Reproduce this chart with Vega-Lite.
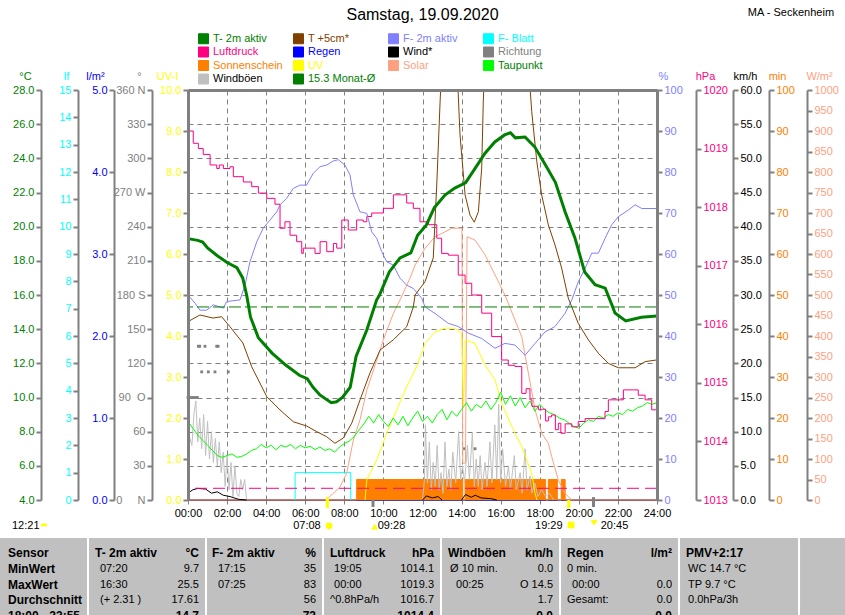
{
  "$schema": "https://vega.github.io/schema/vega-lite/v6.json",
  "width": 469,
  "height": 410,
  "autosize": {"type": "none"},
  "padding": {"left": 188, "top": 90, "right": 188, "bottom": 115},
  "background": "#ffffff",
  "datasets": {
    "reg": [{"h": 0, "v": 0}, {"h": 24, "v": 0}],
    "sun": [{"h": 0, "v": 0}, {"h": 8.63, "v": 5}, {"h": 14.06, "v": 0}, {"h": 14.18, "v": 5}, {"h": 18.3, "v": 0}, {"h": 18.44, "v": 5}, {"h": 18.9, "v": 0}, {"h": 19.1, "v": 5}, {"h": 19.3, "v": 0}, {"h": 24, "v": 0}],
    "fb": [{"h": 5.48, "v": 0}, {"h": 5.48, "v": 1}, {"h": 8.33, "v": 1}, {"h": 8.33, "v": 0}],
    "wb": [
      {"h": 0, "v": 7.0, "s": "a"}, {"h": 0.1, "v": 9.0, "s": "a"}, {"h": 0.2, "v": 8.0, "s": "a"}, {"h": 0.3, "v": 12.5, "s": "a"}, {"h": 0.4, "v": 14.5, "s": "a"}, {"h": 0.5, "v": 8.5, "s": "a"}, {"h": 0.6, "v": 12.0, "s": "a"}, {"h": 0.7, "v": 7.5, "s": "a"}, {"h": 0.8, "v": 12.5, "s": "a"}, {"h": 0.9, "v": 6.5, "s": "a"}, {"h": 1.0, "v": 11.5, "s": "a"}, {"h": 1.1, "v": 6.0, "s": "a"}, {"h": 1.2, "v": 10.0, "s": "a"}, {"h": 1.3, "v": 5.5, "s": "a"}, {"h": 1.4, "v": 9.0, "s": "a"}, {"h": 1.5, "v": 5.0, "s": "a"}, {"h": 1.6, "v": 8.5, "s": "a"}, {"h": 1.7, "v": 4.0, "s": "a"}, {"h": 1.8, "v": 7.0, "s": "a"}, {"h": 1.9, "v": 2.0, "s": "a"}, {"h": 2.0, "v": 6.5, "s": "a"}, {"h": 2.1, "v": 1.5, "s": "a"}, {"h": 2.2, "v": 5.5, "s": "a"}, {"h": 2.3, "v": 0.5, "s": "a"}, {"h": 2.4, "v": 5.0, "s": "a"}, {"h": 2.5, "v": 1.0, "s": "a"}, {"h": 2.6, "v": 0.5, "s": "a"}, {"h": 2.7, "v": 3.0, "s": "a"}, {"h": 2.8, "v": 1.5, "s": "a"}, {"h": 2.9, "v": 3.0, "s": "a"}, {"h": 3.0, "v": 0, "s": "a"},
      {"h": 12.0, "v": 0, "s": "b"}, {"h": 12.1, "v": 3.0, "s": "b"}, {"h": 12.15, "v": 11.0, "s": "b"}, {"h": 12.25, "v": 2.5, "s": "b"}, {"h": 12.35, "v": 8.5, "s": "b"}, {"h": 12.45, "v": 1.5, "s": "b"}, {"h": 12.55, "v": 5.5, "s": "b"}, {"h": 12.65, "v": 2.0, "s": "b"}, {"h": 12.75, "v": 8.0, "s": "b"}, {"h": 12.85, "v": 1.5, "s": "b"}, {"h": 12.95, "v": 4.0, "s": "b"}, {"h": 13.05, "v": 1.0, "s": "b"}, {"h": 13.15, "v": 8.5, "s": "b"}, {"h": 13.25, "v": 2.0, "s": "b"}, {"h": 13.35, "v": 4.5, "s": "b"}, {"h": 13.45, "v": 1.5, "s": "b"}, {"h": 13.55, "v": 7.0, "s": "b"}, {"h": 13.7, "v": 2.5, "s": "b"}, {"h": 13.85, "v": 10.0, "s": "b"}, {"h": 13.95, "v": 3.0, "s": "b"}, {"h": 14.05, "v": 5.0, "s": "b"}, {"h": 14.15, "v": 2.5, "s": "b"}, {"h": 14.3, "v": 8.0, "s": "b"}, {"h": 14.4, "v": 3.0, "s": "b"}, {"h": 14.55, "v": 9.8, "s": "b"}, {"h": 14.65, "v": 2.0, "s": "b"}, {"h": 14.75, "v": 6.0, "s": "b"}, {"h": 14.85, "v": 2.0, "s": "b"}, {"h": 14.95, "v": 6.5, "s": "b"}, {"h": 15.05, "v": 1.5, "s": "b"}, {"h": 15.2, "v": 5.5, "s": "b"}, {"h": 15.3, "v": 2.0, "s": "b"}, {"h": 15.45, "v": 8.5, "s": "b"}, {"h": 15.55, "v": 2.5, "s": "b"}, {"h": 15.7, "v": 11.0, "s": "b"}, {"h": 15.8, "v": 3.0, "s": "b"}, {"h": 15.9, "v": 14.0, "s": "b"}, {"h": 16.0, "v": 2.5, "s": "b"}, {"h": 16.1, "v": 7.5, "s": "b"}, {"h": 16.25, "v": 2.0, "s": "b"}, {"h": 16.4, "v": 5.0, "s": "b"}, {"h": 16.5, "v": 1.5, "s": "b"}, {"h": 16.7, "v": 6.5, "s": "b"}, {"h": 16.8, "v": 1.5, "s": "b"}, {"h": 17.0, "v": 4.0, "s": "b"}, {"h": 17.1, "v": 1.0, "s": "b"}, {"h": 17.25, "v": 7.5, "s": "b"}, {"h": 17.35, "v": 1.5, "s": "b"}, {"h": 17.5, "v": 3.5, "s": "b"}, {"h": 17.6, "v": 1.0, "s": "b"}, {"h": 17.75, "v": 2.5, "s": "b"}, {"h": 17.9, "v": 0.5, "s": "b"}, {"h": 18.1, "v": 1.5, "s": "b"}, {"h": 18.3, "v": 0.5, "s": "b"}, {"h": 18.5, "v": 1.0, "s": "b"}, {"h": 18.7, "v": 0, "s": "b"}
    ],
    "wi": [
      {"h": 0, "v": 1.0, "s": "a"}, {"h": 0.25, "v": 1.5, "s": "a"}, {"h": 0.5, "v": 1.7, "s": "a"}, {"h": 0.9, "v": 1.6, "s": "a"}, {"h": 1.2, "v": 1.0, "s": "a"}, {"h": 1.5, "v": 1.2, "s": "a"}, {"h": 1.8, "v": 0.7, "s": "a"}, {"h": 2.15, "v": 0.5, "s": "a"}, {"h": 2.6, "v": 0.1, "s": "a"}, {"h": 3.0, "v": 0, "s": "a"},
      {"h": 12.0, "v": 0, "s": "b"}, {"h": 12.2, "v": 0.6, "s": "b"}, {"h": 12.5, "v": 0.3, "s": "b"}, {"h": 12.8, "v": 0.5, "s": "b"}, {"h": 13.0, "v": 0, "s": "b"},
      {"h": 14.0, "v": 0, "s": "c"}, {"h": 14.2, "v": 0.8, "s": "c"}, {"h": 14.5, "v": 0.4, "s": "c"}, {"h": 14.7, "v": 0.7, "s": "c"}, {"h": 15.0, "v": 0.3, "s": "c"}, {"h": 15.5, "v": 0.2, "s": "c"}, {"h": 15.8, "v": 0, "s": "c"}
    ],
    "ri": [{"h": 0, "v": 90}, {"h": 0.12, "v": 90}, {"h": 0.24, "v": 90}, {"h": 0.36, "v": 90}, {"h": 0.48, "v": 90}, {"h": 0.53, "v": 135}, {"h": 0.6, "v": 135}, {"h": 0.87, "v": 135}, {"h": 1.47, "v": 135}, {"h": 1.54, "v": 135}, {"h": 0.7, "v": 112.5}, {"h": 1.04, "v": 112.5}, {"h": 1.38, "v": 112.5}, {"h": 2.06, "v": 112.5}, {"h": 14.14, "v": 45}, {"h": 14.69, "v": 45}],
    "sol": [{"h": 7.0, "v": 0}, {"h": 7.18, "v": 5}, {"h": 7.78, "v": 32}, {"h": 8.12, "v": 65}, {"h": 8.46, "v": 146}, {"h": 8.8, "v": 195}, {"h": 9.15, "v": 268}, {"h": 9.66, "v": 341}, {"h": 9.99, "v": 390}, {"h": 10.51, "v": 455}, {"h": 10.85, "v": 488}, {"h": 11.36, "v": 541}, {"h": 11.62, "v": 573}, {"h": 12.13, "v": 614}, {"h": 12.64, "v": 642}, {"h": 13.15, "v": 654}, {"h": 13.5, "v": 663}, {"h": 14.02, "v": 663}, {"h": 14.06, "v": 90}, {"h": 14.2, "v": 90}, {"h": 14.28, "v": 642}, {"h": 14.69, "v": 634}, {"h": 15.2, "v": 598}, {"h": 15.71, "v": 549}, {"h": 16.22, "v": 500}, {"h": 16.73, "v": 439}, {"h": 17.08, "v": 398}, {"h": 17.42, "v": 309}, {"h": 17.76, "v": 220}, {"h": 18.1, "v": 163}, {"h": 18.44, "v": 138}, {"h": 18.61, "v": 106}, {"h": 18.95, "v": 49}, {"h": 19.29, "v": 16}, {"h": 19.64, "v": 0}],
    "uv": [{"h": 9.06, "v": 0}, {"h": 9.15, "v": 0.49}, {"h": 9.66, "v": 0.98}, {"h": 10.17, "v": 1.63}, {"h": 10.68, "v": 2.2}, {"h": 11.19, "v": 2.76}, {"h": 11.7, "v": 3.25}, {"h": 12.13, "v": 3.82}, {"h": 12.64, "v": 4.1}, {"h": 13.15, "v": 4.19}, {"h": 13.66, "v": 4.19}, {"h": 14.0, "v": 4.07}, {"h": 14.1, "v": 2.3}, {"h": 14.2, "v": 3.9}, {"h": 14.69, "v": 3.82}, {"h": 15.2, "v": 3.29}, {"h": 15.71, "v": 2.93}, {"h": 16.05, "v": 2.36}, {"h": 16.57, "v": 1.79}, {"h": 17.08, "v": 1.3}, {"h": 17.59, "v": 0.65}, {"h": 17.76, "v": 0.16}, {"h": 17.86, "v": 0}],
    "tp": [{"h": 0, "v": 8.6}, {"h": 0.25, "v": 8.2}, {"h": 0.5, "v": 7.8}, {"h": 0.75, "v": 7.5}, {"h": 1.0, "v": 7.2}, {"h": 1.25, "v": 6.9}, {"h": 1.5, "v": 6.6}, {"h": 1.75, "v": 6.5}, {"h": 2.0, "v": 6.6}, {"h": 2.25, "v": 6.7}, {"h": 2.5, "v": 6.5}, {"h": 2.75, "v": 6.55}, {"h": 3.0, "v": 6.7}, {"h": 3.25, "v": 6.9}, {"h": 3.5, "v": 7.0}, {"h": 3.75, "v": 7.25}, {"h": 4.0, "v": 7.05}, {"h": 4.25, "v": 7.2}, {"h": 4.5, "v": 6.95}, {"h": 4.75, "v": 7.2}, {"h": 5.0, "v": 7.1}, {"h": 5.25, "v": 7.25}, {"h": 5.5, "v": 7.0}, {"h": 5.75, "v": 7.2}, {"h": 6.0, "v": 7.05}, {"h": 6.25, "v": 7.15}, {"h": 6.5, "v": 6.95}, {"h": 6.75, "v": 7.1}, {"h": 7.0, "v": 6.9}, {"h": 7.25, "v": 7.0}, {"h": 7.5, "v": 6.8}, {"h": 7.75, "v": 7.1}, {"h": 8.0, "v": 7.3}, {"h": 8.25, "v": 7.45}, {"h": 8.5, "v": 7.7}, {"h": 8.75, "v": 8.1}, {"h": 9.0, "v": 8.45}, {"h": 9.25, "v": 8.9}, {"h": 9.5, "v": 8.5}, {"h": 9.75, "v": 9.0}, {"h": 10.0, "v": 8.6}, {"h": 10.25, "v": 8.3}, {"h": 10.5, "v": 8.8}, {"h": 10.75, "v": 8.4}, {"h": 11.0, "v": 8.9}, {"h": 11.25, "v": 8.35}, {"h": 11.5, "v": 8.8}, {"h": 11.75, "v": 9.2}, {"h": 12.0, "v": 8.6}, {"h": 12.25, "v": 8.9}, {"h": 12.5, "v": 8.5}, {"h": 12.75, "v": 9.0}, {"h": 13.0, "v": 9.3}, {"h": 13.25, "v": 8.7}, {"h": 13.5, "v": 9.2}, {"h": 13.75, "v": 8.9}, {"h": 14.0, "v": 9.3}, {"h": 14.25, "v": 9.7}, {"h": 14.5, "v": 9.2}, {"h": 14.75, "v": 9.6}, {"h": 15.0, "v": 9.4}, {"h": 15.25, "v": 9.8}, {"h": 15.5, "v": 9.3}, {"h": 15.75, "v": 9.7}, {"h": 16.0, "v": 10.3}, {"h": 16.25, "v": 9.6}, {"h": 16.5, "v": 10.1}, {"h": 16.75, "v": 9.5}, {"h": 17.0, "v": 10.0}, {"h": 17.25, "v": 9.4}, {"h": 17.5, "v": 9.8}, {"h": 17.75, "v": 9.2}, {"h": 18.0, "v": 9.6}, {"h": 18.25, "v": 9.3}, {"h": 18.5, "v": 9.1}, {"h": 18.75, "v": 9.0}, {"h": 19.0, "v": 8.8}, {"h": 19.25, "v": 8.7}, {"h": 19.5, "v": 8.5}, {"h": 19.75, "v": 8.3}, {"h": 20.0, "v": 8.2}, {"h": 20.25, "v": 8.5}, {"h": 20.5, "v": 8.7}, {"h": 20.75, "v": 8.6}, {"h": 21.0, "v": 8.9}, {"h": 21.25, "v": 8.8}, {"h": 21.5, "v": 9.0}, {"h": 21.75, "v": 8.9}, {"h": 22.0, "v": 9.1}, {"h": 22.25, "v": 9.0}, {"h": 22.5, "v": 9.3}, {"h": 22.75, "v": 9.2}, {"h": 23.0, "v": 9.4}, {"h": 23.25, "v": 9.5}, {"h": 23.5, "v": 9.7}, {"h": 23.75, "v": 9.6}, {"h": 24.0, "v": 9.7}],
    "lp": [{"h": 0, "v": 1019.3}, {"h": 0.27, "v": 1019.09}, {"h": 0.53, "v": 1019.0}, {"h": 0.78, "v": 1018.9}, {"h": 1.13, "v": 1018.72}, {"h": 1.47, "v": 1018.66}, {"h": 1.6, "v": 1018.72}, {"h": 1.81, "v": 1018.66}, {"h": 2.15, "v": 1018.69}, {"h": 2.32, "v": 1018.52}, {"h": 2.83, "v": 1018.43}, {"h": 3.26, "v": 1018.35}, {"h": 3.6, "v": 1018.24}, {"h": 4.03, "v": 1018.15}, {"h": 4.45, "v": 1018.05}, {"h": 4.71, "v": 1017.64}, {"h": 4.96, "v": 1017.75}, {"h": 5.22, "v": 1017.52}, {"h": 5.56, "v": 1017.41}, {"h": 5.82, "v": 1017.21}, {"h": 5.9, "v": 1017.3}, {"h": 6.24, "v": 1017.3}, {"h": 6.5, "v": 1017.21}, {"h": 6.76, "v": 1017.41}, {"h": 7.1, "v": 1017.24}, {"h": 7.44, "v": 1017.38}, {"h": 7.61, "v": 1017.3}, {"h": 7.87, "v": 1017.78}, {"h": 8.2, "v": 1017.61}, {"h": 8.63, "v": 1017.78}, {"h": 8.97, "v": 1017.75}, {"h": 9.15, "v": 1017.84}, {"h": 9.4, "v": 1017.9}, {"h": 9.83, "v": 1017.9}, {"h": 10.0, "v": 1017.98}, {"h": 10.34, "v": 1017.98}, {"h": 10.51, "v": 1018.21}, {"h": 10.94, "v": 1018.21}, {"h": 11.19, "v": 1018.07}, {"h": 11.53, "v": 1017.98}, {"h": 11.87, "v": 1017.75}, {"h": 12.3, "v": 1017.7}, {"h": 12.73, "v": 1017.47}, {"h": 12.98, "v": 1017.21}, {"h": 13.32, "v": 1017.18}, {"h": 13.83, "v": 1016.84}, {"h": 14.18, "v": 1016.7}, {"h": 14.52, "v": 1016.5}, {"h": 15.03, "v": 1016.19}, {"h": 15.54, "v": 1015.79}, {"h": 16.05, "v": 1015.39}, {"h": 16.39, "v": 1015.3}, {"h": 16.73, "v": 1015.28}, {"h": 17.08, "v": 1014.82}, {"h": 17.3, "v": 1014.9}, {"h": 17.5, "v": 1014.71}, {"h": 17.6, "v": 1014.6}, {"h": 17.93, "v": 1014.54}, {"h": 18.1, "v": 1014.55}, {"h": 18.3, "v": 1014.35}, {"h": 18.44, "v": 1014.42}, {"h": 18.6, "v": 1014.45}, {"h": 18.8, "v": 1014.2}, {"h": 18.95, "v": 1014.31}, {"h": 19.08, "v": 1014.14}, {"h": 19.3, "v": 1014.3}, {"h": 19.64, "v": 1014.25}, {"h": 19.97, "v": 1014.34}, {"h": 20.32, "v": 1014.39}, {"h": 20.83, "v": 1014.39}, {"h": 21.34, "v": 1014.51}, {"h": 21.51, "v": 1014.71}, {"h": 22.02, "v": 1014.71}, {"h": 22.28, "v": 1014.88}, {"h": 22.79, "v": 1014.88}, {"h": 23.04, "v": 1014.79}, {"h": 23.39, "v": 1014.71}, {"h": 23.73, "v": 1014.54}, {"h": 24, "v": 1014.39}],
    "fh": [{"h": 0, "v": 50}, {"h": 0.36, "v": 48}, {"h": 0.61, "v": 46.3}, {"h": 0.96, "v": 46.3}, {"h": 1.29, "v": 47.6}, {"h": 1.81, "v": 46.8}, {"h": 1.98, "v": 48.4}, {"h": 2.66, "v": 48.8}, {"h": 2.92, "v": 52.4}, {"h": 3.17, "v": 58.1}, {"h": 3.52, "v": 63}, {"h": 3.85, "v": 66.3}, {"h": 4.2, "v": 68.3}, {"h": 4.54, "v": 70.3}, {"h": 4.71, "v": 72}, {"h": 5.05, "v": 73.6}, {"h": 5.39, "v": 76}, {"h": 5.73, "v": 76.8}, {"h": 6.07, "v": 76.8}, {"h": 6.41, "v": 79.7}, {"h": 6.76, "v": 81.3}, {"h": 7.1, "v": 81.7}, {"h": 7.44, "v": 82.7}, {"h": 7.69, "v": 83}, {"h": 8.03, "v": 81.7}, {"h": 8.29, "v": 79.3}, {"h": 8.46, "v": 74.4}, {"h": 8.8, "v": 70.3}, {"h": 9.15, "v": 69.9}, {"h": 9.4, "v": 65.4}, {"h": 9.66, "v": 63.8}, {"h": 9.91, "v": 60.6}, {"h": 10.17, "v": 58.1}, {"h": 10.5, "v": 57.3}, {"h": 10.85, "v": 54.1}, {"h": 11.19, "v": 52.4}, {"h": 11.53, "v": 51.6}, {"h": 11.96, "v": 49.2}, {"h": 12.13, "v": 47.1}, {"h": 12.64, "v": 45.5}, {"h": 13.32, "v": 43.1}, {"h": 13.83, "v": 42.3}, {"h": 14.35, "v": 40.7}, {"h": 15.03, "v": 39.4}, {"h": 15.71, "v": 37}, {"h": 16.22, "v": 38.2}, {"h": 16.73, "v": 37.8}, {"h": 17.25, "v": 35.3}, {"h": 17.76, "v": 38.2}, {"h": 18.27, "v": 41}, {"h": 18.78, "v": 42.3}, {"h": 19.29, "v": 45.5}, {"h": 19.64, "v": 48.8}, {"h": 19.97, "v": 53.2}, {"h": 20.32, "v": 56.5}, {"h": 20.66, "v": 60.2}, {"h": 21.0, "v": 60.2}, {"h": 21.34, "v": 63.8}, {"h": 21.68, "v": 67.1}, {"h": 22.02, "v": 69.1}, {"h": 22.53, "v": 70.7}, {"h": 22.88, "v": 72}, {"h": 23.22, "v": 71.1}, {"h": 24, "v": 71.1}],
    "t5": [{"h": 0, "v": 14.44}, {"h": 0.61, "v": 14.83}, {"h": 1.28, "v": 14.65}, {"h": 1.72, "v": 14.73}, {"h": 2.15, "v": 14.14}, {"h": 2.81, "v": 13.19}, {"h": 3.26, "v": 11.8}, {"h": 4.03, "v": 10.05}, {"h": 4.71, "v": 9.27}, {"h": 5.39, "v": 8.58}, {"h": 6.07, "v": 8.33}, {"h": 6.59, "v": 8.0}, {"h": 7.1, "v": 7.7}, {"h": 7.52, "v": 7.32}, {"h": 7.95, "v": 7.63}, {"h": 8.38, "v": 8.5}, {"h": 8.8, "v": 9.85}, {"h": 9.31, "v": 11.43}, {"h": 9.83, "v": 12.78}, {"h": 10.5, "v": 13.37}, {"h": 11.19, "v": 14.14}, {"h": 11.53, "v": 15.3}, {"h": 11.62, "v": 16.0}, {"h": 12.13, "v": 16.78}, {"h": 12.55, "v": 18.17}, {"h": 12.73, "v": 22.44}, {"h": 12.9, "v": 27.3}, {"h": 13.0, "v": 29.8}, {"h": 13.3, "v": 33}, {"h": 13.55, "v": 33}, {"h": 13.75, "v": 29.8}, {"h": 13.92, "v": 25.37}, {"h": 14.18, "v": 21.85}, {"h": 14.43, "v": 20.68}, {"h": 14.65, "v": 20.26}, {"h": 14.86, "v": 20.88}, {"h": 15.03, "v": 23.43}, {"h": 15.11, "v": 27.3}, {"h": 15.2, "v": 29.8}, {"h": 15.6, "v": 34}, {"h": 17.0, "v": 34}, {"h": 17.4, "v": 29.8}, {"h": 17.59, "v": 26.73}, {"h": 17.85, "v": 23.8}, {"h": 18.1, "v": 21.85}, {"h": 18.44, "v": 20.1}, {"h": 18.78, "v": 18.93}, {"h": 19.12, "v": 17.58}, {"h": 19.46, "v": 15.82}, {"h": 19.97, "v": 14.34}, {"h": 20.49, "v": 13.37}, {"h": 21.0, "v": 12.59}, {"h": 21.51, "v": 12.0}, {"h": 22.02, "v": 11.74}, {"h": 22.88, "v": 11.74}, {"h": 23.39, "v": 12.1}, {"h": 24, "v": 12.2}],
    "t2": [{"h": 0, "v": 19.3}, {"h": 0.5, "v": 19.2}, {"h": 0.75, "v": 19.1}, {"h": 1.0, "v": 18.75}, {"h": 1.5, "v": 18.3}, {"h": 2.0, "v": 17.9}, {"h": 2.5, "v": 17.6}, {"h": 2.8, "v": 17.0}, {"h": 3.0, "v": 16.0}, {"h": 3.2, "v": 14.7}, {"h": 3.6, "v": 13.5}, {"h": 4.3, "v": 12.6}, {"h": 5.0, "v": 11.9}, {"h": 5.7, "v": 11.3}, {"h": 6.1, "v": 11.1}, {"h": 6.4, "v": 10.6}, {"h": 6.75, "v": 10.15}, {"h": 7.33, "v": 9.7}, {"h": 7.6, "v": 9.75}, {"h": 7.9, "v": 10.0}, {"h": 8.3, "v": 10.6}, {"h": 8.6, "v": 12.4}, {"h": 9.15, "v": 13.95}, {"h": 9.65, "v": 15.7}, {"h": 9.8, "v": 16.0}, {"h": 10.3, "v": 17.35}, {"h": 10.85, "v": 18.17}, {"h": 11.4, "v": 18.46}, {"h": 11.75, "v": 19.5}, {"h": 12.2, "v": 20.1}, {"h": 12.6, "v": 21.1}, {"h": 13.15, "v": 21.85}, {"h": 13.65, "v": 22.26}, {"h": 14.2, "v": 22.56}, {"h": 14.7, "v": 23.43}, {"h": 15.2, "v": 24.3}, {"h": 15.7, "v": 24.96}, {"h": 16.2, "v": 25.37}, {"h": 16.5, "v": 25.5}, {"h": 16.75, "v": 25.2}, {"h": 17.25, "v": 25.25}, {"h": 17.75, "v": 24.66}, {"h": 18.3, "v": 23.6}, {"h": 18.8, "v": 22.6}, {"h": 19.3, "v": 20.86}, {"h": 19.8, "v": 19.34}, {"h": 20.3, "v": 17.35}, {"h": 20.83, "v": 16.6}, {"h": 21.35, "v": 16.4}, {"h": 21.7, "v": 15.4}, {"h": 21.85, "v": 14.95}, {"h": 22.4, "v": 14.48}, {"h": 23.2, "v": 14.7}, {"h": 24, "v": 14.77}],
    "ann": [{"t": "12:21", "h": -9.007, "v": -0.627, "k": "l"}, {"t": "07:08", "h": 6.79, "v": -0.627, "k": "r"}, {"t": "09:28", "h": 9.71, "v": -0.627, "k": "l"}, {"t": "19:29", "h": 19.17, "v": -0.627, "k": "r"}, {"t": "20:45", "h": 21.12, "v": -0.627, "k": "l"}, {"t": "MA - Seckenheim", "h": 33.06, "v": 11.88, "k": "r"}],
    "hdr": [{"t": "Samstag, 19.09.2020", "h": 12, "v": 11.83}],
    "ico": [{"h": -7.37, "v": -0.6, "sh": "M-1,0.5C-1,-0.7 1,-0.7 1,0.5Z"}, {"h": 7.22, "v": -0.63, "sh": "circle"}, {"h": 9.55, "v": -0.65, "sh": "triangle-up"}, {"h": 19.6, "v": -0.61, "sh": "square"}, {"h": 20.78, "v": -0.56, "sh": "triangle-down"}],
    "tk": [{"h": 7.133, "v1": 0.07, "v2": -0.2, "c": "y"}, {"h": 9.467, "v1": 0, "v2": -0.17, "c": "g"}, {"h": 19.483, "v1": 0, "v2": -0.2, "c": "y"}, {"h": 20.75, "v1": 0.07, "v2": -0.17, "c": "g"}],
    "cols": [{"x1": -9.7, "x2": -5.169}, {"x1": -5.067, "x2": 0.87}, {"x1": 0.972, "x2": 6.858}, {"x1": 6.96, "x2": 12.897}, {"x1": 12.999, "x2": 18.987}, {"x1": 19.089, "x2": 25.077}, {"x1": 25.179, "x2": 31.218}, {"x1": 31.32, "x2": 33.7}],
    "cells": [
      {"t": "Sensor", "h": -9.212, "v": -1.293, "k": "lb"},
      {"t": "MinWert", "h": -9.212, "v": -1.671, "k": "lb"},
      {"t": "MaxWert", "h": -9.212, "v": -2.061, "k": "lb"},
      {"t": "Durchschnitt", "h": -9.212, "v": -2.451, "k": "lb"},
      {"t": "18:00 - 23:55", "h": -9.212, "v": -2.841, "k": "lb"},
      {"t": "T- 2m aktiv", "h": -4.76, "v": -1.293, "k": "lb"},
      {"t": "F- 2m aktiv", "h": 1.228, "v": -1.293, "k": "lb"},
      {"t": "Luftdruck", "h": 7.267, "v": -1.293, "k": "lb"},
      {"t": "Windböen", "h": 13.306, "v": -1.293, "k": "lb"},
      {"t": "Regen", "h": 19.396, "v": -1.293, "k": "lb"},
      {"t": "PMV+2:17", "h": 25.486, "v": -1.293, "k": "lb"},
      {"t": "°C", "h": 0.563, "v": -1.293, "k": "rb"},
      {"t": "%", "h": 6.551, "v": -1.293, "k": "rb"},
      {"t": "hPa", "h": 12.59, "v": -1.293, "k": "rb"},
      {"t": "km/h", "h": 18.68, "v": -1.293, "k": "rb"},
      {"t": "l/m²", "h": 24.77, "v": -1.293, "k": "rb"},
      {"t": "14.7", "h": 0.563, "v": -2.841, "k": "rb"},
      {"t": "73", "h": 6.551, "v": -2.841, "k": "rb"},
      {"t": "1014.4", "h": 12.59, "v": -2.841, "k": "rb"},
      {"t": "0.0", "h": 18.68, "v": -2.841, "k": "rb"},
      {"t": "0.0", "h": 24.77, "v": -2.841, "k": "rb"},
      {"t": "07:20", "h": -4.504, "v": -1.671, "k": "ln"},
      {"t": "16:30", "h": -4.504, "v": -2.061, "k": "ln"},
      {"t": "(+ 2.31 )", "h": -4.504, "v": -2.451, "k": "ln"},
      {"t": "17:15", "h": 1.535, "v": -1.671, "k": "ln"},
      {"t": "07:25", "h": 1.535, "v": -2.061, "k": "ln"},
      {"t": "19:05", "h": 7.472, "v": -1.671, "k": "ln"},
      {"t": "00:00", "h": 7.472, "v": -2.061, "k": "ln"},
      {"t": "^0.8hPa/h", "h": 7.267, "v": -2.451, "k": "ln"},
      {"t": "Ø 10 min.", "h": 13.408, "v": -1.671, "k": "ln"},
      {"t": "00:25", "h": 13.715, "v": -2.061, "k": "ln"},
      {"t": "0 min.", "h": 19.396, "v": -1.671, "k": "ln"},
      {"t": "00:00", "h": 19.652, "v": -2.061, "k": "ln"},
      {"t": "Gesamt:", "h": 19.396, "v": -2.451, "k": "ln"},
      {"t": "WC 14.7 °C", "h": 25.589, "v": -1.671, "k": "ln"},
      {"t": "TP 9.7 °C", "h": 25.589, "v": -2.061, "k": "ln"},
      {"t": "0.0hPa/3h", "h": 25.589, "v": -2.451, "k": "ln"},
      {"t": "9.7", "h": 0.563, "v": -1.671, "k": "rn"},
      {"t": "25.5", "h": 0.563, "v": -2.061, "k": "rn"},
      {"t": "17.61", "h": 0.563, "v": -2.451, "k": "rn"},
      {"t": "35", "h": 6.551, "v": -1.671, "k": "rn"},
      {"t": "83", "h": 6.551, "v": -2.061, "k": "rn"},
      {"t": "56", "h": 6.551, "v": -2.451, "k": "rn"},
      {"t": "1014.1", "h": 12.59, "v": -1.671, "k": "rn"},
      {"t": "1019.3", "h": 12.59, "v": -2.061, "k": "rn"},
      {"t": "1016.7", "h": 12.59, "v": -2.451, "k": "rn"},
      {"t": "0.0", "h": 18.68, "v": -1.671, "k": "rn"},
      {"t": "O 14.5", "h": 18.68, "v": -2.061, "k": "rn"},
      {"t": "1.7", "h": 18.68, "v": -2.451, "k": "rn"},
      {"t": "0.0", "h": 24.77, "v": -2.061, "k": "rn"},
      {"t": "0.0", "h": 24.77, "v": -2.451, "k": "rn"}
    ]
  },
  "layer": [
    {
      "data": {"name": "reg"},
      "mark": {"type": "line", "strokeWidth": 1},
      "encoding": {
        "x": {"field": "h", "type": "quantitative", "scale": {"domain": [0, 24], "nice": false}, "axis": null},
        "y": {"field": "v", "type": "quantitative", "scale": {"domain": [0, 5], "nice": false, "zero": false},
          "axis": {"orient": "left", "offset": 74, "values": [0, 1, 2, 3, 4, 5], "format": ".1f", "labelColor": "#0000FF", "title": "l/m²", "titleColor": "#0000FF", "titleAngle": 0, "titleAlign": "center", "titleBaseline": "middle", "titleX": -19, "titleY": -14}},
        "color": {
          "datum": "Regen",
          "scale": {
            "domain": ["T- 2m aktiv", "T +5cm*", "F- 2m aktiv", "F- Blatt", "Luftdruck", "Regen", "Wind*", "Richtung", "Sonnenschein", "UV", "Solar", "Taupunkt", "Windböen", "15.3 Monat-Ø"],
            "range": ["#008000", "#804000", "#8080FF", "#00FFFF", "#FF0080", "#0000FF", "#000000", "#808080", "#FF8000", "#FFFF00", "#FFA080", "#00FF00", "#C0C0C0", "#008000"]
          },
          "legend": {
            "orient": "none", "legendX": 10, "legendY": -57, "columns": 4, "direction": "horizontal", "gridAlign": "all",
            "columnPadding": 8, "rowPadding": -1.5, "padding": 0, "title": null,
            "symbolType": "square", "symbolSize": 100, "symbolStrokeWidth": 1, "symbolStrokeColor": "#000000",
            "labelFont": "Liberation Sans", "labelFontSize": 11, "labelOffset": 4,
            "encode": {
              "symbols": {"update": {
                "fill": {"signal": "datum.label === '15.3 Monat-Ø' ? '#ffffff' : scale('color', datum.value)"},
                "stroke": {"signal": "datum.label === '15.3 Monat-Ø' ? '#008000' : '#000000'"},
                "strokeWidth": {"value": 1}, "strokeDash": {"value": []}, "opacity": {"value": 1},
                "shape": {"value": "square"}, "size": {"value": 100}
              }},
              "labels": {"update": {
                "fill": {"signal": "(datum.label === 'Windböen' || datum.label === 'Wind*') ? '#000000' : (datum.label === 'Taupunkt' || datum.label === '15.3 Monat-Ø') ? '#008000' : scale('color', datum.value)"}
              }}
            }
          }
        }
      }
    },
    {
      "data": {"name": "sun"},
      "mark": {"type": "area", "interpolate": "step-after", "opacity": 1, "line": {"strokeWidth": 1}},
      "encoding": {
        "x": {"field": "h", "type": "quantitative", "scale": {"domain": [0, 24], "nice": false}, "axis": null},
        "y": {"field": "v", "type": "quantitative", "scale": {"domain": [0, 100], "nice": false, "zero": false},
          "axis": {"orient": "right", "offset": 112, "values": [0, 10, 20, 30, 40, 50, 60, 70, 80, 90, 100], "labelColor": "#FF8000", "title": "min", "titleColor": "#FF8000", "titleAngle": 0, "titleAlign": "center", "titleBaseline": "middle", "titleX": 8, "titleY": -14}},
        "color": {"datum": "Sonnenschein"}
      }
    },
    {
      "data": {"name": "fb"},
      "mark": {"type": "line", "strokeWidth": 1},
      "encoding": {
        "x": {"field": "h", "type": "quantitative", "scale": {"domain": [0, 24], "nice": false}, "axis": null},
        "y": {"field": "v", "type": "quantitative", "scale": {"domain": [0, 15], "nice": false, "zero": false},
          "axis": {"orient": "left", "offset": 110, "values": [0, 1, 2, 3, 4, 5, 6, 7, 8, 9, 10, 11, 12, 13, 14, 15], "labelColor": "#00FFFF", "title": "lf", "titleColor": "#00FFFF", "titleAngle": 0, "titleAlign": "center", "titleBaseline": "middle", "titleX": -12, "titleY": -14}},
        "order": {"field": "o"},
        "color": {"datum": "F- Blatt"}
      }
    },
    {
      "data": {"name": "wb"},
      "mark": {"type": "line", "strokeWidth": 1},
      "encoding": {
        "x": {"field": "h", "type": "quantitative", "scale": {"domain": [0, 24], "nice": false}, "axis": null},
        "y": {"field": "v", "type": "quantitative", "scale": {"domain": [0, 60], "nice": false, "zero": false},
          "axis": {"orient": "right", "offset": 76, "values": [0, 5, 10, 15, 20, 25, 30, 35, 40, 45, 50, 55, 60], "format": ".1f", "labelColor": "#000000", "title": "km/h", "titleColor": "#000000", "titleAngle": 0, "titleAlign": "center", "titleBaseline": "middle", "titleX": 12, "titleY": -14}},
        "detail": {"field": "s"},
        "color": {"datum": "Windböen"}
      }
    },
    {
      "data": {"name": "wi"},
      "mark": {"type": "line", "strokeWidth": 1},
      "encoding": {
        "x": {"field": "h", "type": "quantitative", "scale": {"domain": [0, 24], "nice": false}, "axis": null},
        "y": {"field": "v", "type": "quantitative", "scale": {"domain": [0, 60], "nice": false, "zero": false}, "axis": null},
        "detail": {"field": "s"},
        "color": {"datum": "Wind*"}
      }
    },
    {
      "data": {"name": "ri"},
      "mark": {"type": "point", "shape": "square", "filled": true, "size": 8, "opacity": 1},
      "encoding": {
        "x": {"field": "h", "type": "quantitative", "scale": {"domain": [0, 24], "nice": false}, "axis": null},
        "y": {"field": "v", "type": "quantitative", "scale": {"domain": [0, 360], "nice": false, "zero": false},
          "axis": {"orient": "left", "offset": 36, "values": [0, 30, 60, 90, 120, 150, 180, 210, 240, 270, 300, 330, 360], "labelColor": "#808080",
            "labelExpr": "datum.value == 360 ? '360 N' : datum.value == 270 ? '270 W' : datum.value == 180 ? '180 S' : datum.value == 90 ? '90\u00a0\u00a0O' : datum.value == 0 ? '0\u00a0\u00a0\u00a0\u00a0\u00a0N' : datum.label",
            "title": "°", "titleColor": "#808080", "titleAngle": 0, "titleAlign": "center", "titleBaseline": "middle", "titleX": -13, "titleY": -14}},
        "color": {"datum": "Richtung"}
      }
    },
    {
      "data": {"name": "sol"},
      "mark": {"type": "line", "strokeWidth": 1},
      "encoding": {
        "x": {"field": "h", "type": "quantitative", "scale": {"domain": [0, 24], "nice": false}, "axis": null},
        "y": {"field": "v", "type": "quantitative", "scale": {"domain": [0, 1000], "nice": false, "zero": false},
          "axis": {"orient": "right", "offset": 150, "values": [0, 50, 100, 150, 200, 250, 300, 350, 400, 450, 500, 550, 600, 650, 700, 750, 800, 850, 900, 950, 1000], "format": "d", "labelColor": "#FFA080", "title": "W/m²", "titleColor": "#FFA080", "titleAngle": 0, "titleAlign": "center", "titleBaseline": "middle", "titleX": 12, "titleY": -14}},
        "color": {"datum": "Solar"}
      }
    },
    {
      "data": {"name": "uv"},
      "mark": {"type": "line", "strokeWidth": 1},
      "encoding": {
        "x": {"field": "h", "type": "quantitative", "scale": {"domain": [0, 24], "nice": false}, "axis": null},
        "y": {"field": "v", "type": "quantitative", "scale": {"domain": [0, 10], "nice": false, "zero": false},
          "axis": {"orient": "left", "offset": 0, "values": [0, 1, 2, 3, 4, 5, 6, 7, 8, 9, 10], "format": ".1f", "labelColor": "#FFFF00", "domainWidth": 3, "zindex": 2, "title": "UV-I", "titleColor": "#FFFF00", "titleAngle": 0, "titleAlign": "center", "titleBaseline": "middle", "titleX": -21, "titleY": -14}},
        "color": {"datum": "UV"}
      }
    },
    {
      "data": {"name": "tp"},
      "mark": {"type": "line", "strokeWidth": 1},
      "encoding": {
        "x": {"field": "h", "type": "quantitative", "scale": {"domain": [0, 24], "nice": false}, "axis": null},
        "y": {"field": "v", "type": "quantitative", "scale": {"domain": [4, 28], "nice": false, "zero": false}, "axis": null},
        "color": {"datum": "Taupunkt"}
      }
    },
    {
      "data": {"name": "lp"},
      "mark": {"type": "line", "strokeWidth": 1, "interpolate": "step-after"},
      "encoding": {
        "x": {"field": "h", "type": "quantitative", "scale": {"domain": [0, 24], "nice": false}, "axis": null},
        "y": {"field": "v", "type": "quantitative", "scale": {"domain": [1013, 1020], "nice": false, "zero": false},
          "axis": {"orient": "right", "offset": 39, "values": [1013, 1014, 1015, 1016, 1017, 1018, 1019, 1020], "format": "d", "labelColor": "#FF0080", "title": "hPa", "titleColor": "#FF0080", "titleAngle": 0, "titleAlign": "center", "titleBaseline": "middle", "titleX": 9, "titleY": -14}},
        "color": {"datum": "Luftdruck"}
      }
    },
    {
      "data": {"values": [{"v": 1013.2}]},
      "mark": {"type": "rule", "strokeWidth": 1, "strokeDash": [12, 6]},
      "encoding": {
        "y": {"field": "v", "type": "quantitative", "scale": {"domain": [1013, 1020], "nice": false, "zero": false}, "axis": null},
        "color": {"datum": "Luftdruck"}
      }
    },
    {
      "data": {"name": "fh"},
      "mark": {"type": "line", "strokeWidth": 1},
      "encoding": {
        "x": {"field": "h", "type": "quantitative", "scale": {"domain": [0, 24], "nice": false},
          "axis": {"orient": "top", "domainWidth": 3, "ticks": false, "labels": false, "title": null, "grid": false, "zindex": 2}},
        "y": {"field": "v", "type": "quantitative", "scale": {"domain": [0, 100], "nice": false, "zero": false},
          "axis": {"orient": "right", "offset": 0, "values": [0, 10, 20, 30, 40, 50, 60, 70, 80, 90, 100], "labelColor": "#8080FF", "domainWidth": 3, "zindex": 2, "title": "%", "titleColor": "#8080FF", "titleAngle": 0, "titleAlign": "center", "titleBaseline": "middle", "titleX": 6, "titleY": -14}},
        "color": {"datum": "F- 2m aktiv"}
      }
    },
    {
      "data": {"name": "t5"},
      "mark": {"type": "line", "strokeWidth": 1, "clip": true},
      "encoding": {
        "x": {"field": "h", "type": "quantitative", "scale": {"domain": [0, 24], "nice": false}, "axis": null},
        "y": {"field": "v", "type": "quantitative", "scale": {"domain": [4, 28], "nice": false, "zero": false}, "axis": null},
        "color": {"datum": "T +5cm*"}
      }
    },
    {
      "data": {"values": [{"v": 15.3}]},
      "mark": {"type": "rule", "strokeWidth": 1, "strokeDash": [12, 4]},
      "encoding": {
        "y": {"field": "v", "type": "quantitative", "scale": {"domain": [4, 28], "nice": false, "zero": false}, "axis": null},
        "color": {"datum": "15.3 Monat-Ø"}
      }
    },
    {
      "data": {"name": "t2"},
      "mark": {"type": "line", "strokeWidth": 3},
      "encoding": {
        "x": {"field": "h", "type": "quantitative", "scale": {"domain": [0, 24], "nice": false},
          "axis": {"orient": "bottom", "values": [0, 2, 4, 6, 8, 10, 12, 14, 16, 18, 20, 22, 24], "labelExpr": "(datum.value < 10 ? '0' : '') + datum.value + ':00'",
            "labelColor": "#000000", "domainWidth": 1, "tickWidth": 1, "tickSize": 4, "labelPadding": 3, "title": null,
            "grid": true, "gridColor": "#808080", "gridDash": [5, 4], "gridWidth": 1, "zindex": 0}},
        "y": {"field": "v", "type": "quantitative", "scale": {"domain": [4, 28], "nice": false, "zero": false},
          "axis": {"orient": "left", "offset": 147, "values": [4, 6, 8, 10, 12, 14, 16, 18, 20, 22, 24, 26, 28], "format": ".1f", "labelColor": "#008000",
            "grid": true, "gridColor": "#808080", "gridDash": [5, 4], "gridWidth": 1, "zindex": 0,
            "title": "°C", "titleColor": "#008000", "titleAngle": 0, "titleAlign": "center", "titleBaseline": "middle", "titleX": -16, "titleY": -14}},
        "color": {"datum": "T- 2m aktiv"}
      }
    },
    {
      "data": {"name": "tk"},
      "transform": [{"filter": "datum.c === 'y'"}],
      "mark": {"type": "rule", "strokeWidth": 3, "color": "#FFFF00"},
      "encoding": {
        "x": {"field": "h", "type": "quantitative", "scale": {"domain": [0, 24], "nice": false}, "axis": null},
        "y": {"field": "v1", "type": "quantitative", "scale": {"domain": [0, 10], "nice": false, "zero": false}, "axis": null},
        "y2": {"field": "v2"}
      }
    },
    {
      "data": {"name": "tk"},
      "transform": [{"filter": "datum.c === 'g'"}],
      "mark": {"type": "rule", "strokeWidth": 3, "color": "#808080"},
      "encoding": {
        "x": {"field": "h", "type": "quantitative", "scale": {"domain": [0, 24], "nice": false}, "axis": null},
        "y": {"field": "v1", "type": "quantitative", "scale": {"domain": [0, 10], "nice": false, "zero": false}, "axis": null},
        "y2": {"field": "v2"}
      }
    },
    {
      "data": {"name": "ico"},
      "mark": {"type": "point", "filled": true, "size": 45, "color": "#FFFF00", "opacity": 1},
      "encoding": {
        "x": {"field": "h", "type": "quantitative", "scale": {"domain": [0, 24], "nice": false}, "axis": null},
        "y": {"field": "v", "type": "quantitative", "scale": {"domain": [0, 10], "nice": false, "zero": false}, "axis": null},
        "shape": {"field": "sh", "type": "nominal", "scale": null, "legend": null}
      }
    },
    {
      "data": {"name": "ann"},
      "transform": [{"filter": "datum.k === 'l'"}],
      "mark": {"type": "text", "align": "left", "baseline": "middle", "fontSize": 11, "color": "#000000"},
      "encoding": {
        "x": {"field": "h", "type": "quantitative", "scale": {"domain": [0, 24], "nice": false}, "axis": null},
        "y": {"field": "v", "type": "quantitative", "scale": {"domain": [0, 10], "nice": false, "zero": false}, "axis": null},
        "text": {"field": "t"}
      }
    },
    {
      "data": {"name": "ann"},
      "transform": [{"filter": "datum.k === 'r'"}],
      "mark": {"type": "text", "align": "right", "baseline": "middle", "fontSize": 11, "color": "#000000"},
      "encoding": {
        "x": {"field": "h", "type": "quantitative", "scale": {"domain": [0, 24], "nice": false}, "axis": null},
        "y": {"field": "v", "type": "quantitative", "scale": {"domain": [0, 10], "nice": false, "zero": false}, "axis": null},
        "text": {"field": "t"}
      }
    },
    {
      "data": {"name": "hdr"},
      "mark": {"type": "text", "align": "center", "baseline": "middle", "fontSize": 16, "color": "#000000"},
      "encoding": {
        "x": {"field": "h", "type": "quantitative", "scale": {"domain": [0, 24], "nice": false}, "axis": null},
        "y": {"field": "v", "type": "quantitative", "scale": {"domain": [0, 10], "nice": false, "zero": false}, "axis": null},
        "text": {"field": "t"}
      }
    },
    {
      "data": {"name": "cols"},
      "mark": {"type": "rect", "color": "#C0C0C0", "opacity": 1},
      "encoding": {
        "x": {"field": "x1", "type": "quantitative", "scale": {"domain": [0, 24], "nice": false}, "axis": null},
        "x2": {"field": "x2"},
        "y": {"datum": -0.927, "type": "quantitative", "scale": {"domain": [0, 10], "nice": false, "zero": false}, "axis": null},
        "y2": {"datum": -3.2}
      }
    },
    {
      "data": {"name": "cells"},
      "transform": [{"filter": "datum.k === 'lb'"}],
      "mark": {"type": "text", "align": "left", "baseline": "middle", "fontSize": 12, "fontWeight": "bold", "color": "#000000"},
      "encoding": {
        "x": {"field": "h", "type": "quantitative", "scale": {"domain": [0, 24], "nice": false}, "axis": null},
        "y": {"field": "v", "type": "quantitative", "scale": {"domain": [0, 10], "nice": false, "zero": false}, "axis": null},
        "text": {"field": "t"}
      }
    },
    {
      "data": {"name": "cells"},
      "transform": [{"filter": "datum.k === 'rb'"}],
      "mark": {"type": "text", "align": "right", "baseline": "middle", "fontSize": 12, "fontWeight": "bold", "color": "#000000"},
      "encoding": {
        "x": {"field": "h", "type": "quantitative", "scale": {"domain": [0, 24], "nice": false}, "axis": null},
        "y": {"field": "v", "type": "quantitative", "scale": {"domain": [0, 10], "nice": false, "zero": false}, "axis": null},
        "text": {"field": "t"}
      }
    },
    {
      "data": {"name": "cells"},
      "transform": [{"filter": "datum.k === 'ln'"}],
      "mark": {"type": "text", "align": "left", "baseline": "middle", "fontSize": 11, "color": "#000000"},
      "encoding": {
        "x": {"field": "h", "type": "quantitative", "scale": {"domain": [0, 24], "nice": false}, "axis": null},
        "y": {"field": "v", "type": "quantitative", "scale": {"domain": [0, 10], "nice": false, "zero": false}, "axis": null},
        "text": {"field": "t"}
      }
    },
    {
      "data": {"name": "cells"},
      "transform": [{"filter": "datum.k === 'rn'"}],
      "mark": {"type": "text", "align": "right", "baseline": "middle", "fontSize": 11, "color": "#000000"},
      "encoding": {
        "x": {"field": "h", "type": "quantitative", "scale": {"domain": [0, 24], "nice": false}, "axis": null},
        "y": {"field": "v", "type": "quantitative", "scale": {"domain": [0, 10], "nice": false, "zero": false}, "axis": null},
        "text": {"field": "t"}
      }
    }
  ],
  "resolve": {"scale": {"y": "independent"}, "axis": {"x": "independent", "y": "independent"}},
  "config": {
    "font": "Liberation Sans",
    "view": {"stroke": null},
    "axis": {
      "labelFont": "Liberation Sans", "labelFontSize": 11, "titleFont": "Liberation Sans", "titleFontSize": 11, "titleFontWeight": "normal",
      "domainColor": "#808080", "tickColor": "#808080", "domainWidth": 2, "tickWidth": 2, "tickSize": 5, "labelPadding": 2,
      "labelOverlap": false, "labelFlush": false, "grid": false
    }
  }
}
